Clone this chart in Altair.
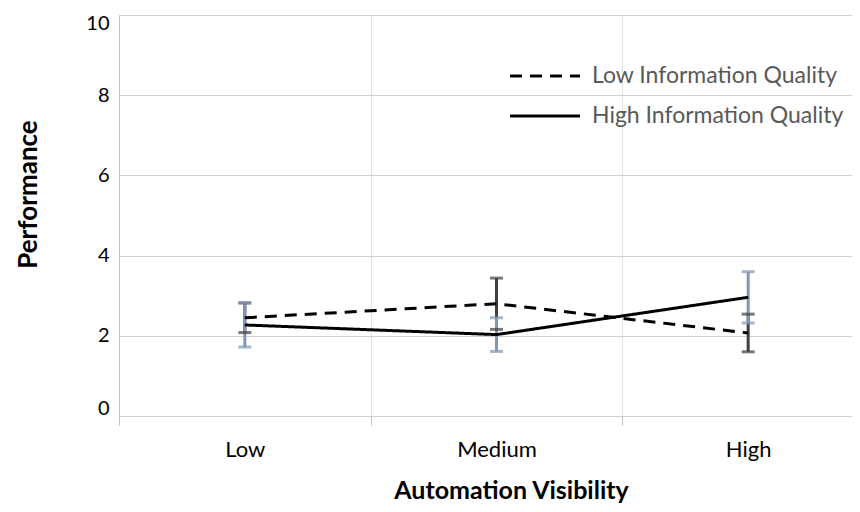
import altair as alt
import pandas as pd

categories = ["Low", "Medium", "High"]
series = ["Low Information Quality", "High Information Quality"]
low_iq_mean = [2.45, 2.80, 2.07]
low_iq_err = [0.37, 0.64, 0.47]
high_iq_mean = [2.27, 2.03, 2.96]
high_iq_err = [0.55, 0.42, 0.64]

rows = []
for s, means, errs in [(series[0], low_iq_mean, low_iq_err), (series[1], high_iq_mean, high_iq_err)]:
    for c, m, e in zip(categories, means, errs):
        rows.append({"visibility": c, "series": s, "perf": m, "lo": m - e, "hi": m + e})
df = pd.DataFrame(rows)

FONT = "Lato"
x_enc = alt.X("visibility:N", sort=categories, scale=alt.Scale(domain=categories, range=[0, 755]),
              axis=alt.Axis(title="Automation Visibility", labelAngle=0, tickBand="extent",
                            grid=True, gridColor="#e3e3e3", ticks=True, tickSize=9, tickColor="#bfbfbf",
                            domain=False, labelFontSize=22, labelColor="#000000", labelFont=FONT,
                            labelPadding=14, titleFont=FONT, titleFontSize=25, titleFontWeight="bold",
                            titleColor="#000000", titleX=392, titleY=74, titleBaseline="middle"))
y_scale = alt.Scale(domain=[0, 10], nice=False)
y_axis = alt.Axis(title="Performance", values=[0, 2, 4, 6, 8, 10], grid=True, gridColor="#d0d0d0",
                  ticks=False, domain=True, domainColor="#bfbfbf", labelFontSize=20, labelColor="#000000",
                  labelFont=FONT, labelPadding=10, labelFlush=True, labelFlushOffset=2,
                  titleFont=FONT, titleFontSize=26,
                  titleFontWeight="bold", titleColor="#000000", titleY=179, titleX=-91,
                  titleBaseline="middle", titleAngle=270)

err_color = alt.Color("series:N", scale=alt.Scale(domain=series, range=["#404040", "#8097b5"]), legend=None)

base = alt.Chart(df)
bars = base.mark_rule(strokeWidth=3).encode(x=x_enc, y=alt.Y("lo:Q", scale=y_scale, axis=y_axis), y2="hi:Q", color=err_color)
cap_lo = base.mark_tick(thickness=3, size=13, orient="horizontal").encode(x=x_enc, y=alt.Y("lo:Q", scale=y_scale), color=err_color)
cap_hi = base.mark_tick(thickness=3, size=13, orient="horizontal").encode(x=x_enc, y=alt.Y("hi:Q", scale=y_scale), color=err_color)
lines = base.mark_line(strokeWidth=3, color="#000000").encode(
    x=x_enc, y=alt.Y("perf:Q", scale=y_scale),
    strokeDash=alt.StrokeDash("series:N", scale=alt.Scale(domain=series, range=[[12, 8], [1, 0]]), legend=None),
    detail="series:N")

leg_df = pd.DataFrame({"series": series})
leg1 = alt.Chart(leg_df.iloc[[0]]).mark_rule(strokeWidth=3, color="#000000", strokeDash=[12, 8]).encode(
    x=alt.value(391), x2=alt.value(461), y=alt.value(61))
leg2 = alt.Chart(leg_df.iloc[[1]]).mark_rule(strokeWidth=3, color="#000000").encode(
    x=alt.value(391), x2=alt.value(461), y=alt.value(101))
t1 = alt.Chart(leg_df.iloc[[0]]).mark_text(align="left", baseline="middle", font=FONT, fontSize=23, color="#595959").encode(
    x=alt.value(473), y=alt.value(61), text="series:N")
t2 = alt.Chart(leg_df.iloc[[1]]).mark_text(align="left", baseline="middle", font=FONT, fontSize=23, color="#595959").encode(
    x=alt.value(473), y=alt.value(101), text="series:N")

chart = alt.layer(bars, cap_lo, cap_hi, lines, leg1, leg2, t1, t2).properties(
    width=733, height=401,
    autosize=alt.AutoSizeParams(type="none"),
    padding={"left": 111, "top": 7, "right": 0, "bottom": 88},
).configure_view(stroke=None)

chart.save("out.html", embed_options={"renderer": "svg", "actions": False})
